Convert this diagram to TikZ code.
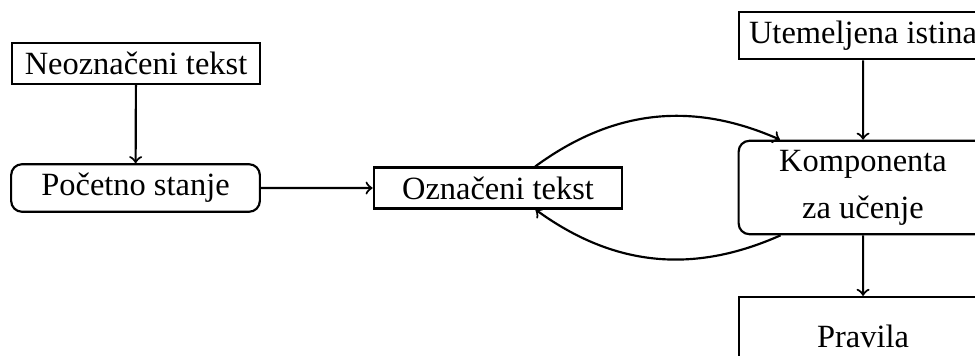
\documentclass[tikz,border=0pt]{standalone}
\usepackage{fontspec}
\setmainfont{Liberation Serif}
\usetikzlibrary{arrows}

\begin{document}
\begin{tikzpicture}[scale=0.13, thick]
\tikzstyle{every node}+=[font=\fontsize{12}{14.5}\selectfont, minimum width=92pt]
\tikzstyle{box}=[draw, rectangle]
\tikzstyle{rbox}=[draw, rectangle, rounded corners, align=center]
\useasboundingbox (0,0) rectangle (97.5,-35.6);
\clip (0,0) rectangle (97.5,-35.6);
% left column
\node [box] (neo) at (13.6,-6.35) {Neoznačeni tekst};
\node [rbox] (pocetno) at (13.55,-18.8) {Početno stanje};
% middle
\node [box] (oznaceni) at (49.8,-18.8) {Označeni tekst};
% right column
\node [box] (istina) at (86.3,-3.55) {Utemeljena istina};
\node [rbox] (komponenta) at (86.3,-18.75) {Komponenta\\[3pt] za učenje};
\node [box, minimum height=28.9pt] (pravila) at (86.3,-33.6) {Pravila};
\draw [->] (neo) -- (pocetno);
\draw [->] (pocetno) -- (oznaceni);
\draw [->] (oznaceni) to [bend left] (komponenta);
\draw [->] (komponenta) to [bend left] (oznaceni);
\draw [->] (istina) -- (komponenta);
\draw [->] (komponenta) -- (pravila);
\end{tikzpicture}
\end{document}
